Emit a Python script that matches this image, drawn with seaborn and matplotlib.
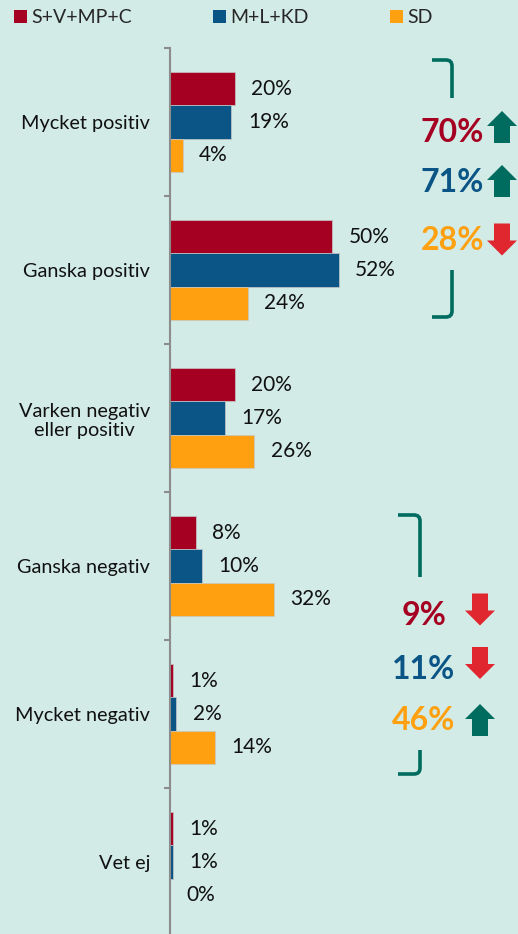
import numpy as np
import pandas as pd
import matplotlib
matplotlib.use("Agg")
import matplotlib.pyplot as plt
import seaborn as sns
from matplotlib.patches import Patch, FancyArrow
from matplotlib.path import Path as MPath
from matplotlib.patches import PathPatch

# data
categories = ["Mycket positiv", "Ganska positiv", "Varken negativ\neller positiv",
              "Ganska negativ", "Mycket negativ", "Vet ej"]
groups = ["S+V+MP+C", "M+L+KD", "SD"]
red_vals = [20, 50, 20, 8, 1, 1]
blue_vals = [19, 52, 17, 10, 2, 1]
orange_vals = [4, 24, 26, 32, 14, 0]
colors = ["#a50021", "#0a5586", "#ffa010"]

# summary boxes on the right
pos_totals = [70, 71, 28]
pos_dirs = ["up", "up", "down"]
neg_totals = [9, 11, 46]
neg_dirs = ["down", "down", "up"]

W, H = 518, 934
BG = "#d2ebe6"
TEAL = "#006b5f"
ARROW_RED = "#e0262f"

sns.set_theme(style="white")
plt.rcParams["font.family"] = ["Lato", "DejaVu Sans"]

df = pd.DataFrame({
    "category": np.repeat(categories, 3),
    "group": groups * len(categories),
    "value": np.ravel(np.column_stack([red_vals, blue_vals, orange_vals])),
})

fig = plt.figure(figsize=(W / 100, H / 100), dpi=100, facecolor=BG)
x0 = 169.5
ax = fig.add_axes([x0 / W, 0, (W - x0) / W, (H - 48) / H])
ax.set_facecolor(BG)

sns.barplot(data=df, y="category", x="value", hue="group", order=categories,
            hue_order=groups, palette=colors, saturation=1, orient="h", width=0.67,
            edgecolor="#c8c8c8", linewidth=0.5, legend=False, ax=ax)

px_per_pct = 3.25
ax.set_xlim(0, (W - x0) / px_per_pct)
ax.set_ylim(-0.5 + (H - 48) / 148, -0.5)

for cont in ax.containers:
    ax.bar_label(cont, fmt="%.0f%%", padding=12, fontsize=15, color="#111111")

ax.set_xlabel("")
ax.set_ylabel("")
ax.set_xticks([])
for s in ["top", "right", "bottom"]:
    ax.spines[s].set_visible(False)
ax.spines["left"].set_color("#8c8c8c")
ax.spines["left"].set_linewidth(1.5)
ax.set_yticks(np.arange(-0.5, 5.0, 1.0), minor=True)
ax.tick_params(axis="y", which="minor", left=True, length=4.3, width=1.5, color="#8c8c8c")
ax.tick_params(axis="y", which="major", length=0, pad=14, labelsize=14.3, labelcolor="#111111")
for lab in ax.get_yticklabels():
    lab.set_multialignment("center")

# overlay in pixel coordinates for legend and annotations
ov = fig.add_axes([0, 0, 1, 1])
ov.set_xlim(0, W)
ov.set_ylim(H, 0)
ov.axis("off")
ov.patch.set_alpha(0)

handles = [Patch(facecolor=c, edgecolor="none", label=g) for g, c in zip(groups, colors)]
fig.legend(handles=handles, loc="upper left", bbox_to_anchor=(14 / W, 1 - 9 / H),
           ncol=3, frameon=False, fontsize=14, handlelength=0.65, handleheight=0.65,
           handletextpad=0.22, columnspacing=4.2, borderpad=0, borderaxespad=0)


def bracket(x_left, x_right, y_h, y_end, r=6):
    sign = 1 if y_end > y_h else -1
    verts = [(x_left, y_h), (x_right - r, y_h), (x_right, y_h),
             (x_right, y_h + sign * r), (x_right, y_end)]
    codes = [MPath.MOVETO, MPath.LINETO, MPath.CURVE3, MPath.CURVE3, MPath.LINETO]
    ov.add_patch(PathPatch(MPath(verts, codes), facecolor="none", edgecolor=TEAL,
                           lw=2.6, capstyle="butt"))


def arrow(xc, yc, direction, h=32):
    if direction == "up":
        a = FancyArrow(xc, yc + h / 2, 0, -h, width=16, head_width=30, head_length=15,
                       length_includes_head=True, color=TEAL, lw=0)
    else:
        a = FancyArrow(xc, yc - h / 2, 0, h, width=16, head_width=30, head_length=15,
                       length_includes_head=True, color=ARROW_RED, lw=0)
    ov.add_patch(a)


bracket(432, 452, 60, 98)
bracket(432, 452, 317, 270)
bracket(398, 420, 515, 577)
bracket(398, 420, 774, 750)

for val, d, c, ty, ay in zip(pos_totals, pos_dirs, colors, [130, 180, 238], [127, 181, 239.5]):
    ov.text(452, ty, f"{val}%", color=c, fontsize=23, fontweight="bold",
            ha="center", va="center_baseline")
    arrow(502, ay, d)

for val, d, c, ty, ay in zip(neg_totals, neg_dirs, colors, [613, 667, 718], [609.5, 663, 720]):
    ov.text(424, ty, f"{val}%", color=c, fontsize=23, fontweight="bold",
            ha="center", va="center_baseline")
    arrow(480, ay, d)

fig.savefig("out.png", dpi=100, facecolor=BG)
